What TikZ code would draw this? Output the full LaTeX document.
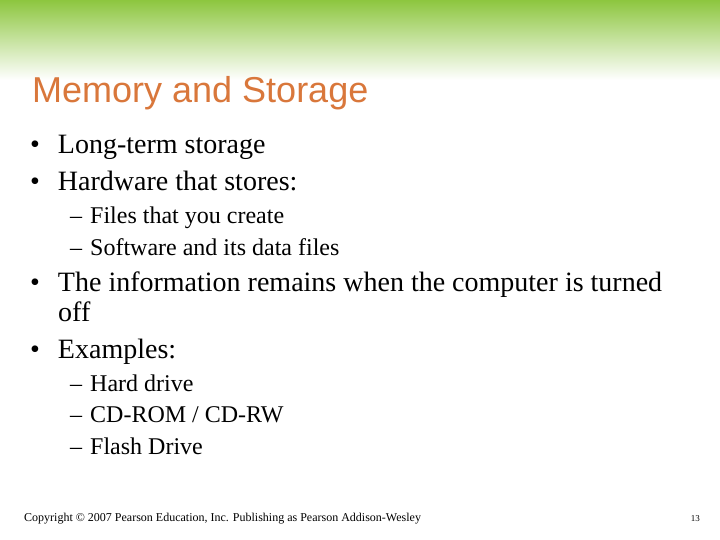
\documentclass[tikz,border=0pt]{standalone}
\usepackage{fontspec}
\setmainfont{Liberation Serif}
\newfontfamily\titlefont{Liberation Sans}
\definecolor{topgreen}{HTML}{8DC63F}
\definecolor{titleor}{HTML}{D9773B}
\begin{document}
\begin{tikzpicture}[x=1pt,y=-1pt,
  body/.style={anchor=base west,inner sep=0pt,font=\fontsize{28}{32}\selectfont},
  sub/.style={anchor=base west,inner sep=0pt,font=\fontsize{24}{28}\selectfont}]
\useasboundingbox (0,0) rectangle (720,540);
\fill[white] (0,0) rectangle (720,540);
\shade[top color=topgreen,bottom color=white] (0,0) rectangle (720,80);
\node[anchor=base west,inner sep=0pt,text=titleor,font=\titlefont\fontsize{36}{40}\selectfont] (t) at (32,103) {Memory and Storage};
\node[body] (b1) at (30,154) {•\hspace{18pt}Long-term storage};
\node[body] (b2) at (30,191) {•\hspace{18pt}Hardware that stores:};
\node[sub] (s1) at (70,223) {–\hspace{8pt}Files that you create};
\node[sub] (s2) at (70,255) {–\hspace{8pt}Software and its data files};
\node[body] (b3) at (30,291) {•\hspace{18pt}The information remains when the computer is turned};
\node[body] (b3b) at (58,321) {off};
\node[body] (b4) at (30,358) {•\hspace{18pt}Examples:};
\node[sub] (s3) at (70,391) {–\hspace{8pt}Hard drive};
\node[sub] (s4) at (70,422) {–\hspace{8pt}CD-ROM / CD-RW};
\node[sub] (s5) at (70,454) {–\hspace{8pt}Flash Drive};
\node[anchor=base west,inner sep=0pt,font=\fontsize{12}{14}\selectfont] (f) at (24,521) {Copyright © 2007 Pearson Education, Inc. Publishing as Pearson Addison-Wesley};
\node[anchor=base east,inner sep=0pt,font=\fontsize{9}{11}\selectfont] (n) at (700,521) {13};
\end{tikzpicture}
\end{document}
